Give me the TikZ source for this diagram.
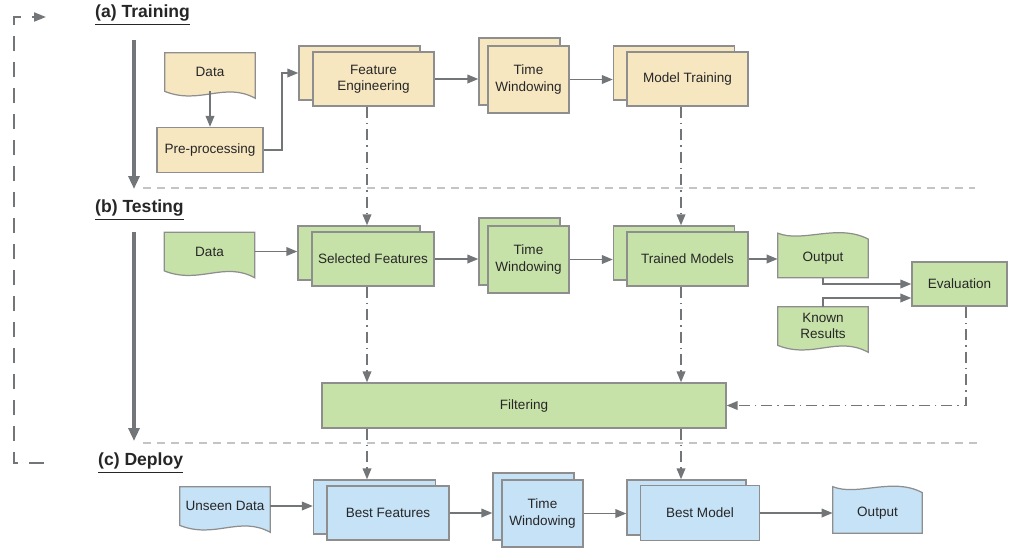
\documentclass[tikz,border=0pt]{standalone}
\usepackage{fontspec}
\setmainfont{Liberation Sans}
\usetikzlibrary{arrows.meta,calc,backgrounds}
\definecolor{sand}{HTML}{F6E7C1}
\definecolor{leaf}{HTML}{C7E2A9}
\definecolor{sky}{HTML}{C6E2F6}
\definecolor{rim}{HTML}{8E8E8E}
\definecolor{wire}{HTML}{737679}
\definecolor{faint}{HTML}{C4C4C4}
\tikzset{
  phase/.style = {anchor=west, font=\bfseries\fontsize{10}{12}\selectfont, text=black!85},
  ylw/.style   = {draw=rim, fill=sand, line width=0.7pt},
  grn/.style   = {draw=rim, fill=leaf, line width=0.7pt},
  blu/.style   = {draw=rim, fill=sky, line width=0.7pt},
  box/.style   = {rectangle, align=center, inner sep=1pt, font=\fontsize{7.7}{9.2}\selectfont, text=black!85},
  tbox/.style  = {box, ylw},
  sbox/.style  = {box, grn},
  dbox/.style  = {box, blu},
  doc/.style   = {box, minimum width=18mm, minimum height=7.6mm},
  flow/.style  = {draw=wire, line width=1.1pt, -{Triangle[length=2.2mm,width=1.7mm]}},
  link/.style  = {flow, dash pattern=on 2.2mm off 1mm on 0.3mm off 1mm},
  sep/.style   = {draw=faint, line width=0.8pt, dash pattern=on 1.6mm off 1.2mm},
  stage/.style = {draw=wire, line width=1.8pt, -{Triangle[length=2.6mm,width=2.2mm]}},
  rerun/.style = {draw=wire, line width=1.1pt, dash pattern=on 3mm off 2.2mm, -{Triangle[length=2.4mm,width=1.8mm]}}
}
\newcommand{\wavebot}[2]{%
  \begin{pgfonlayer}{background}
  \path[#2] (#1.south west) -- (#1.north west) -- (#1.north east) -- ($(#1.south east)+(0,7)$)
    .. controls ($(#1.south west)+(60,-10)$) and ($(#1.south west)+(35,14)$) .. (#1.south west) -- cycle;
  \end{pgfonlayer}}
\newcommand{\wavetop}[2]{%
  \begin{pgfonlayer}{background}
  \path[#2] ($(#1.north west)+(0,-6)$) .. controls ($(#1.north west)+(25,4)$) and ($(#1.north west)+(60,-16)$) .. (#1.north east)
    -- (#1.south east) -- (#1.south west) -- cycle;
  \end{pgfonlayer}}

\begin{document}
\begin{tikzpicture}[x=0.02cm, y=-0.02cm]
  \useasboundingbox (0,0) rectangle (1010,548);

  \node[phase] (ha) at (89,15)  {\underline{(a) Training}};
  \node[phase] (hb) at (89,210) {\underline{(b) Testing}};
  \node[phase] (hc) at (92,463) {\underline{(c) Deploy}};

  \draw[rerun] (44,463) -- (14,463) -- (14,17) -- (46,17);
  \draw[stage] (134,40) -- (134,189);
  \draw[stage] (134,232) -- (134,441);
  \draw[sep] (143,188) -- (975,188);
  \draw[sep] (143,443) -- (980,443);

  \node[doc] (dta) at (210,72) {Data}; \wavebot{dta}{ylw}
  \node[tbox, minimum width=21.2mm, minimum height=9mm] (pre) at (210,150) {Pre-processing};
  \node[tbox, minimum width=24.2mm, minimum height=10.8mm] (fe0) at (359.5,73) {};
  \node[tbox, minimum width=24.2mm, minimum height=10.8mm] (fe)  at (373.5,79) {Feature\\Engineering};
  \node[tbox, minimum width=16.2mm, minimum height=13.4mm] (tw0) at (519.5,71.5) {};
  \node[tbox, minimum width=16.2mm, minimum height=13.4mm] (tw)  at (528.5,79.5) {Time\\Windowing};
  \node[tbox, minimum width=24.2mm, minimum height=10.8mm] (mt0) at (674,73) {};
  \node[tbox, minimum width=24.2mm, minimum height=10.8mm] (mt)  at (687.5,79) {Model Training};

  \draw[flow] (dta.south) -- (pre.north);
  \draw[flow] (pre.east) -- ++(18,0) |- (fe0.west);
  \draw[flow] (fe.east) -- (fe.east -| tw0.west);
  \draw[flow] (tw.east) -- (tw.east -| mt0.west);

  \node[doc] (dtb) at (209.5,251.5) {Data}; \wavebot{dtb}{grn}
  \node[sbox, minimum width=24.4mm, minimum height=10.8mm] (sf0) at (359,253) {};
  \node[sbox, minimum width=24.4mm, minimum height=10.8mm] (sf)  at (373,259) {Selected Features};
  \node[sbox, minimum width=16.2mm, minimum height=13.4mm] (tv0) at (519.5,251.5) {};
  \node[sbox, minimum width=16.2mm, minimum height=13.4mm] (tv)  at (528.5,259.5) {Time\\Windowing};
  \node[sbox, minimum width=24.2mm, minimum height=10.8mm] (tm0) at (674,253) {};
  \node[sbox, minimum width=24.2mm, minimum height=10.8mm] (tm)  at (687.5,259) {Trained Models};
  \node[doc] (out) at (823,258.5) {Output}; \wavetop{out}{grn}
  \node[doc] (kr) at (823,326) {Known\\Results}; \wavebot{kr}{grn}
  \node[sbox, minimum width=19mm, minimum height=8.8mm] (ev) at (959.5,284) {Evaluation};
  \node[sbox, minimum width=80.8mm, minimum height=9mm] (fl) at (524,405.5) {Filtering};

  \draw[link] ([xshift=-1.3mm]fe.south) -- ([xshift=-1.3mm]fe.south |- sf0.north);
  \draw[link] ([xshift=-1.3mm]mt.south) -- ([xshift=-1.3mm]mt.south |- tm0.north);
  \draw[flow] (dtb.east) -- (dtb.east -| sf0.west);
  \draw[flow] (sf.east) -- (sf.east -| tv0.west);
  \draw[flow] (tv.east) -- (tv.east -| tm0.west);
  \draw[flow] (tm.east) -- (tm.east -| out.west);
  \draw[flow] (out.south) |- (ev.west);
  \draw[flow] (kr.north) |- ([yshift=-2.8mm]ev.west);
  \draw[link] ([xshift=-1.2mm]sf.south) -- ([xshift=-1.2mm]sf.south |- fl.north);
  \draw[link] ([xshift=-1.3mm]tm.south) -- ([xshift=-1.3mm]tm.south |- fl.north);
  \draw[link] ([xshift=1.3mm]ev.south) |- (fl.east);

  \node[doc] (un) at (225,506) {Unseen Data}; \wavebot{un}{blu}
  \node[dbox, minimum width=24.4mm, minimum height=10.8mm] (bf0) at (374.5,507) {};
  \node[dbox, minimum width=24.4mm, minimum height=10.8mm] (bf)  at (388,513) {Best Features};
  \node[dbox, minimum width=16.2mm, minimum height=13.4mm] (tu0) at (533.5,506.5) {};
  \node[dbox, minimum width=16.2mm, minimum height=13.4mm] (tu)  at (542.5,513.5) {Time\\Windowing};
  \node[dbox, minimum width=23.8mm, minimum height=11mm] (bm0) at (686.5,507.5) {};
  \node[dbox, minimum width=23.8mm, minimum height=11mm] (bm)  at (700,513) {Best Model};
  \node[doc, minimum width=17.8mm, minimum height=8mm] (ou) at (877.5,513) {Output}; \wavetop{ou}{blu}

  \draw[link] ([xshift=-1.2mm]sf.south |- fl.south) -- ([xshift=-1.2mm]sf.south |- bf0.north);
  \draw[link] ([xshift=-1.3mm]tm.south |- fl.south) -- ([xshift=-1.3mm]tm.south |- bm0.north);
  \draw[flow] (un.east) -- (un.east -| bf0.west);
  \draw[flow] (bf.east) -- (bf.east -| tu0.west);
  \draw[flow] (tu.east) -- (tu.east -| bm0.west);
  \draw[flow] (bm.east) -- (bm.east -| ou.west);
\end{tikzpicture}
\end{document}
